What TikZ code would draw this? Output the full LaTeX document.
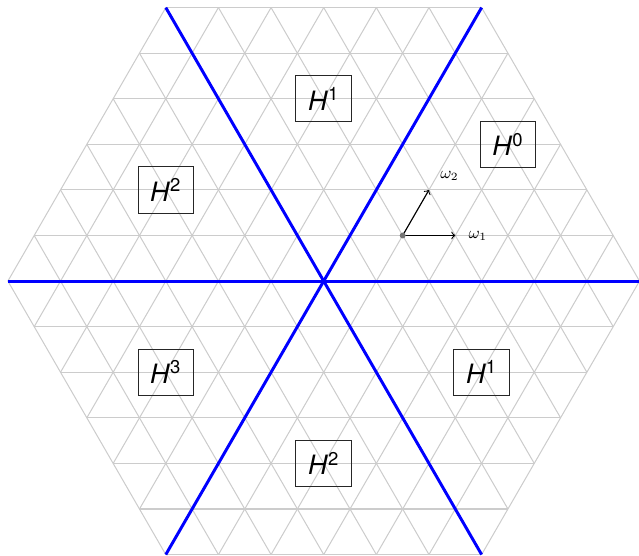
\documentclass[tikz,border=0pt]{standalone}
\usepackage{fontspec}
\setmainfont{TeX Gyre Heros}
\begin{document}
\begin{tikzpicture}[x=1cm,y=1cm,
  gridline/.style={draw=black!20, line width=0.55pt},
  wall/.style={draw=blue, line width=1.6pt},
  chamber/.style={draw=black!85, line width=0.55pt, inner sep=0pt, minimum width=30pt, minimum height=25pt, font=\Large},
  weight/.style={draw=black, line width=0.6pt, -to},
  wlabel/.style={font=\small, inner sep=1pt}]
\useasboundingbox (-6.15,-5.22) rectangle (5.99,5.34);
% triangular grid clipped to hexagon
\foreach \r in {0,60,120}{
  \foreach \j in {-6,...,6}{
    \pgfmathsetmacro\h{6-abs(\j)/2}
    \pgfmathsetmacro\yy{\j*sqrt(3)/2}
    \draw[gridline,rotate=\r] (-\h,\yy) -- (\h,\yy);
  }
}
% walls
\coordinate (L) at (-6,0);
\coordinate (R) at (6,0);
\coordinate (TL) at (-3,5.196);
\coordinate (TR) at (3,5.196);
\coordinate (BL) at (-3,-5.196);
\coordinate (BR) at (3,-5.196);
\draw[wall] (L) -- (R);
\draw[wall] (BL) -- (TR);
\draw[wall] (TL) -- (BR);
% chambers
\node[chamber] (h0) at (3.5,2.598) {\textit{H}\textsuperscript{0}};
\node[chamber] (h1a) at (0,3.464) {\textit{H}\textsuperscript{1}};
\node[chamber] (h2a) at (-3,1.732) {\textit{H}\textsuperscript{2}};
\node[chamber] (h3) at (-3,-1.732) {\textit{H}\textsuperscript{3}};
\node[chamber] (h2b) at (0,-3.464) {\textit{H}\textsuperscript{2}};
\node[chamber] (h1b) at (3,-1.732) {\textit{H}\textsuperscript{1}};
% weights
\coordinate (o) at (1.5,0.866);
\coordinate (w1) at (2.5,0.866);
\coordinate (w2) at (2,1.732);
\draw[weight] (o) -- (w1);
\draw[weight] (o) -- (w2);
\fill[black!55] (o) circle (1.6pt);
\node[wlabel, anchor=west] (l1) at ([xshift=6pt]w1) {$\omega_1$};
\node[wlabel] (l2) at (2.39,1.99) {$\omega_2$};
\end{tikzpicture}
\end{document}
